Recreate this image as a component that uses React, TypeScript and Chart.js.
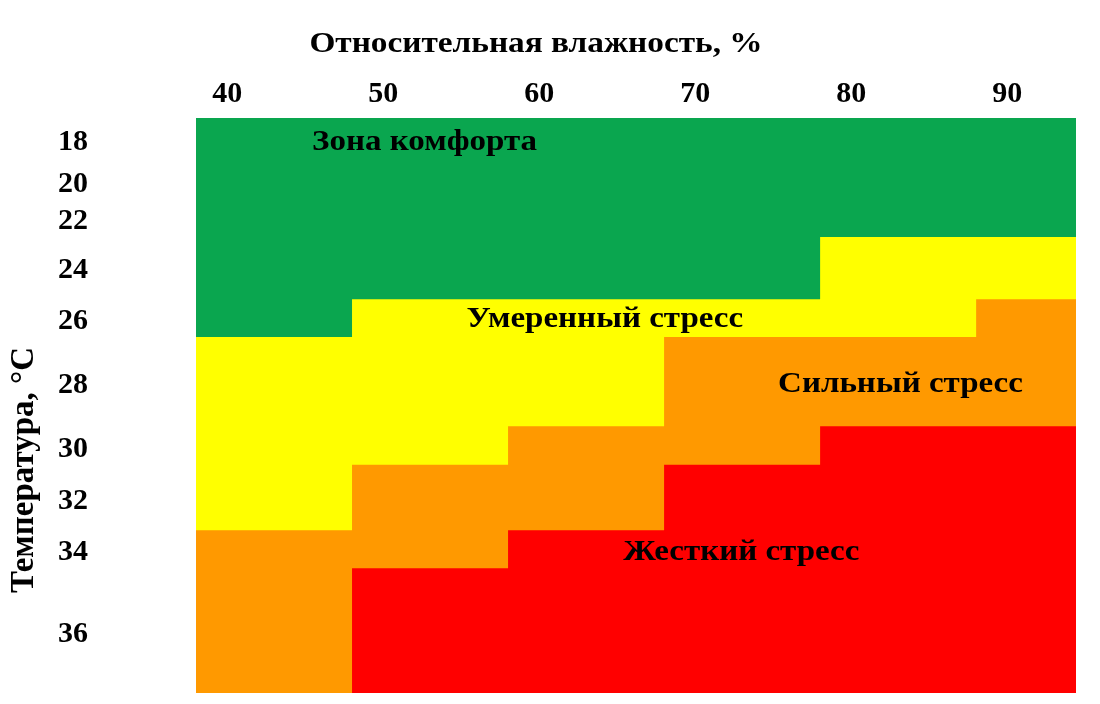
import { useEffect, useRef } from 'react';
import { Chart, registerables } from 'chart.js';

Chart.register(...registerables);

// Relative humidity (%) — tick labels and column edges of the zone table
const humidityTicks = [40, 50, 60, 70, 80, 90];
const humidityEdges = [38, 48, 58, 68, 78, 88, 94.4];

// Temperature labels (°C) and their places on the (non-uniform) temperature axis, 0 = top, 100 = bottom
const tempLabels = ['18', '20', '22', '24', '26', '28', '30', '32', '34', '36'];
const tempLevels = [4.3, 11.5, 18.0, 26.5, 35.3, 46.4, 57.6, 66.6, 75.5, 89.8];

// Lower limit of each zone for every humidity column, on the same axis
const comfortLimit = [38.1, 31.5, 31.5, 31.5, 20.7, 20.7];
const moderateLimit = [71.7, 60.3, 53.6, 38.1, 38.1, 31.5];
const strongLimit = [100, 78.3, 71.7, 60.3, 53.6, 53.6];
const severeLimit = [100, 100, 100, 100, 100, 100];

// Zone names, colours and label anchors (humidity, axis level)
const zoneNames = ['Зона комфорта', 'Умеренный стресс', 'Сильный стресс', 'Жесткий стресс'];
const zoneColors = ['#0AA64F', '#FFFF00', '#FF9900', '#FF0000'];
const zoneLabelHumidity = [52.65, 64.2, 83.15, 72.95];
const zoneLabelLevel = [4.25, 35.0, 46.35, 75.5];

const xTitle = 'Относительная влажность, %';
const yTitle = 'Температура, °C';

const FONT = '"Liberation Serif", "Times New Roman", serif';

function stepPoints(limits: number[]) {
  const pts: { x: number; y: number }[] = [];
  limits.forEach((v, i) => {
    pts.push({ x: humidityEdges[i], y: v });
    pts.push({ x: humidityEdges[i + 1], y: v });
  });
  return pts;
}

function drawText(ctx: CanvasRenderingContext2D, text: string, cx: number, cy: number, size: number, stretch: number, rotate = 0) {
  ctx.save();
  ctx.fillStyle = '#000';
  ctx.textAlign = 'center';
  ctx.textBaseline = 'middle';
  ctx.font = `bold ${size}px ${FONT}`;
  ctx.translate(cx, cy);
  if (rotate) ctx.rotate(rotate);
  ctx.scale(stretch, 1);
  ctx.fillText(text, 0, 0);
  ctx.restore();
}

const labelPlugin = {
  id: 'zoneLabels',
  afterDatasetsDraw(chart: any) {
    const { ctx, scales } = chart;
    const x = scales.x;
    const y = scales.y;
    zoneNames.forEach((name, i) => {
      drawText(ctx, name, x.getPixelForValue(zoneLabelHumidity[i]), y.getPixelForValue(zoneLabelLevel[i]), 30, 1.1);
    });
    drawText(ctx, xTitle, 536, 44, 30, 1.11);
    drawText(ctx, yTitle, 24, 470, 33, 1.0, -Math.PI / 2);
  },
};

export default function App() {
  const ref = useRef<HTMLCanvasElement | null>(null);

  useEffect(() => {
    if (!ref.current) return;
    const limits = [comfortLimit, moderateLimit, strongLimit, severeLimit];
    const chart = new Chart(ref.current, {
      type: 'line',
      data: {
        datasets: limits.map((lim, i) => ({
          label: zoneNames[i],
          data: stepPoints(lim),
          backgroundColor: zoneColors[i],
          borderColor: 'rgba(0,0,0,0)',
          borderWidth: 0,
          pointRadius: 0,
          tension: 0,
          fill: { value: 0 },
        })),
      },
      options: {
        responsive: false,
        animation: false,
        devicePixelRatio: 1,
        layout: { padding: { left: 58, right: 24, top: 0, bottom: 11 } },
        plugins: {
          legend: { display: false },
          tooltip: { enabled: false },
          title: { display: false },
        },
        scales: {
          x: {
            type: 'linear',
            position: 'top',
            min: 38,
            max: 94.4,
            grid: { display: false, drawTicks: false },
            border: { display: false },
            afterBuildTicks: (s: any) => {
              s.ticks = humidityTicks.map((v) => ({ value: v }));
            },
            afterFit: (s: any) => {
              s.height = 118;
              s.paddingLeft = 0;
              s.paddingRight = 0;
            },
            ticks: {
              autoSkip: false,
              maxRotation: 0,
              padding: 9,
              color: '#000',
              font: { family: FONT, size: 30, weight: 'bold', lineHeight: 1 },
              callback: (v: any) => String(v),
            },
          },
          y: {
            type: 'linear',
            reverse: true,
            min: 0,
            max: 100,
            grid: { display: false, drawTicks: false },
            border: { display: false },
            afterBuildTicks: (s: any) => {
              s.ticks = tempLevels.map((v) => ({ value: v }));
            },
            afterFit: (s: any) => {
              s.width = 138;
              s.paddingTop = 0;
              s.paddingBottom = 0;
            },
            ticks: {
              autoSkip: false,
              crossAlign: 'far',
              padding: 0,
              color: '#000',
              font: { family: FONT, size: 30, weight: 'bold', lineHeight: 1 },
              callback: (_v: any, i: number) => tempLabels[i],
            },
          },
        },
      },
      plugins: [labelPlugin],
    } as any);
    return () => chart.destroy();
  }, []);

  return (
    <div style={{ position: 'absolute', left: 0, top: 0, width: 1100, height: 704, background: '#fff' }}>
      <canvas ref={ref} width={1100} height={704} style={{ width: 1100, height: 704, display: 'block' }} />
    </div>
  );
}
